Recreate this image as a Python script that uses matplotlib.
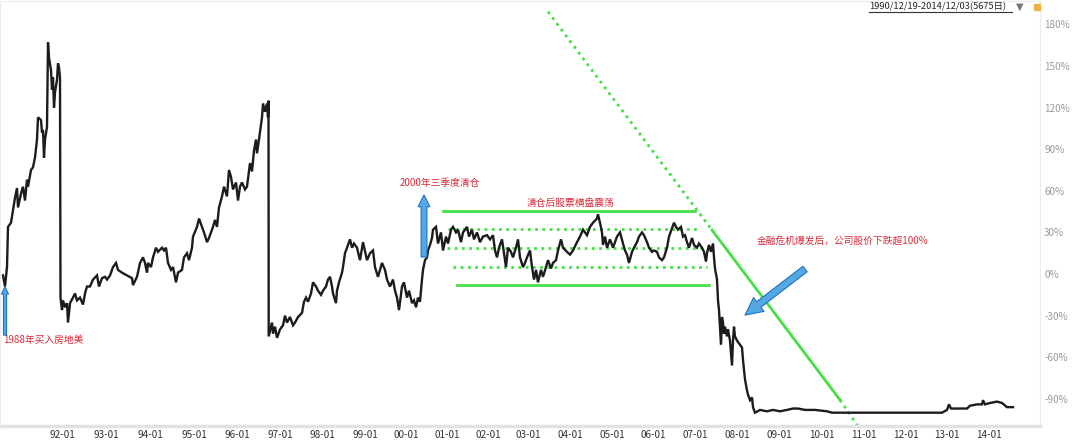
import matplotlib
matplotlib.use('Agg')
import matplotlib.pyplot as plt
from matplotlib.lines import Line2D
from matplotlib.patches import Rectangle

plt.rcParams['font.family'] = ['Noto Sans CJK SC', 'DejaVu Sans']

# bar index (x) and change vs. start in % (y)
bar = [3, 5, 7, 7.5, 8, 11, 13, 15, 17, 18, 21, 23, 25, 27, 28, 31, 33, 35, 37, 38,
       41, 42, 43, 44, 45, 47, 48, 49, 51, 52, 53, 54, 55, 57, 58, 59, 60, 60.5,
       62, 63, 65, 67, 68, 70, 73, 75, 77, 80, 83, 85, 87, 90, 93, 97, 99, 102, 105, 107,
       110, 113, 116, 118, 122, 127, 132, 133, 137, 140, 143, 145, 147, 148, 151, 153, 156,
       158, 162, 164, 166, 168, 171, 173, 176, 178, 182, 184, 187, 189, 192, 193, 197, 199,
       202, 204, 207, 209, 213, 215, 217, 219, 222, 224, 227, 229, 231, 233, 236, 238, 240,
       242, 245, 247, 250, 252, 254, 256, 257, 259, 262, 263, 265, 267, 268, 268.5, 268.7,
       272, 273, 275, 277, 280, 283, 285, 287, 290, 293, 295, 298, 302, 304, 306, 308, 311,
       313, 316, 318, 321, 323, 326, 328, 330, 332, 333, 336, 337, 339, 342, 343, 345, 347,
       350, 352, 354, 357, 360, 363, 367, 370, 373, 375, 378, 382, 385, 387, 390, 393, 395,
       397, 399, 402, 404, 407, 409, 412, 414, 416, 418, 420, 422, 423, 425, 427, 428, 430,
       432, 433, 436, 438, 441, 443, 446, 448, 451, 453, 456, 458, 461, 463, 467, 469, 472,
       474, 477, 480, 483, 487, 490, 493, 495, 497, 499, 502, 504, 506, 508, 511, 513, 516,
       518, 520, 523, 525, 527, 530, 532, 534, 536, 538, 541, 543, 546, 548, 551, 553, 556,
       558, 561, 563, 567, 570, 573, 577, 580, 583, 587, 590, 593, 597, 598, 600, 602, 603,
       605, 607, 610, 613, 615, 617, 620, 623, 625, 627, 629, 632, 634, 637, 639, 642, 644,
       647, 649, 652, 654, 657, 659, 662, 664, 667, 669, 672, 674, 676, 678, 681, 683, 685,
       687, 689, 692, 694, 697, 699, 702, 704, 706, 707, 709, 711, 713, 714, 715, 717, 718,
       719, 720, 721, 722, 723, 724, 725, 727, 728, 730, 732, 733, 734, 735, 737, 739, 742,
       743, 745, 747, 748, 750, 752, 753, 755, 760, 767, 773, 780, 787, 793, 798, 805, 815,
       827, 832, 847, 867, 900, 942, 947, 949, 951, 957, 967, 970, 977, 982, 983, 985, 990,
       997, 1002, 1007, 1013]
pct = [-1, -9, 5, 19, 34, 37, 46, 55, 62, 48, 58, 63, 53, 68, 63, 75, 77, 84, 97, 113,
       111, 102, 104, 84, 97, 106, 167, 156, 147, 133, 142, 120, 131, 140, 152, 149, 142, -17,
       -26, -19, -24, -21, -35, -21, -17, -14, -19, -17, -22, -14, -9, -9, -4, -1, -9, -3, -2, -4,
       -1, 5, 8, 3, 1, -1, -3, -8, -2, 8, 12, 8, 1, 8, 5, 12, 19,
       16, 19, 17, 19, 8, 3, 5, -6, 1, 3, 12, 15, 10, 19, 27, 34, 40,
       34, 30, 23, 26, 34, 39, 34, 48, 56, 63, 56, 75, 70, 61, 66, 53, 63,
       66, 61, 63, 80, 74, 89, 97, 87, 97, 113, 123, 117, 123, 113, 125, -45,
       -35, -43, -38, -46, -40, -37, -30, -35, -31, -37, -35, -31, -28, -20, -17, -20, -14,
       -6, -9, -12, -15, -12, -9, -4, -2, -9, -14, -21, -12, -6, 1, 5, 15, 19,
       25, 19, 22, 19, 10, 23, 10, 15, 17, 5, -2, 8, 3, -4, -9, -4, -12,
       -17, -26, -9, -6, -17, -12, -21, -19, -24, -17, -20, -4, 3, 10, 12, 17, 21,
       26, 32, 34, 22, 30, 17, 27, 22, 32, 34, 30, 32, 23, 30, 34, 27, 32,
       25, 30, 23, 27, 28, 25, 28, 17, 12, 19, 25, 15, 5, 19, 16, 12, 19,
       25, 12, 5, 8, 12, 17, 5, -4, 3, -6, 3, -2, 5, 10, 4, 8, 10,
       17, 25, 19, 16, 14, 17, 23, 27, 32, 28, 34, 37, 40, 43, 37, 30, 21,
       27, 19, 25, 19, 23, 27, 30, 22, 17, 14, 8, 16, 19, 23, 27, 30, 28,
       23, 19, 16, 17, 16, 12, 10, 12, 19, 27, 33, 37, 34, 32, 34, 27, 28,
       23, 19, 26, 21, 19, 22, 19, 16, 9, 15, 21, 16, 22, 12, 4, -4, -19,
       -26, -38, -51, -31, -35, -43, -38, -45, -40, -48, -66, -48, -38, -45, -48, -50, -53,
       -62, -76, -84, -87, -91, -89, -96, -100, -98, -99, -98, -99, -98, -97, -97, -98, -98,
       -99, -100, -100, -100, -100, -100, -98, -94, -97, -97, -97, -95, -94, -94, -91, -94, -93,
       -92, -93, -96, -96]

tick_bar = [62, 106, 150, 194, 237, 280, 322, 365, 406, 447, 488, 528, 570, 612, 653,
            695, 737, 779, 822, 864, 906, 947, 989]
tick_lab = ['92-01', '93-01', '94-01', '95-01', '96-01', '97-01', '98-01', '99-01',
            '00-01', '01-01', '02-01', '03-01', '04-01', '05-01', '06-01', '07-01',
            '08-01', '09-01', '10-01', '11-01', '12-01', '13-01', '14-01']
y_ticks = [180, 150, 120, 90, 60, 30, 0, -30, -60, -90]

# sideways band after the 2000 sale: (level, start bar, end bar)
band_solid = [(45.4, 443, 695), (-7.9, 457, 709)]
band_dot = [(32.4, 448, 698), (18.7, 447, 705), (5.0, 453, 707)]

# falling trend line through the crash
trend_bar = [548, 712, 840, 860]
trend_pct = [189.2, 31.7, -90.8, -112.0]

GREEN = '#44e044'
RED = '#d92b3a'

fig = plt.figure(figsize=(10.8, 4.43), dpi=100)
ax = fig.add_axes([0, 17 / 443, 1040 / 1080, 425 / 443])
ax.set_xlim(0, 1040)
ax.set_ylim(-109.6, 196.9)

ax.plot(bar, pct, color='#1c1c1c', lw=1.7, solid_joinstyle='miter', zorder=3)

for lev, x0, x1 in band_solid:
    ax.plot([x0, x1], [lev, lev], color=GREEN, lw=2.0, zorder=2)
for lev, x0, x1 in band_dot:
    ax.plot([x0, x1], [lev, lev], color=GREEN, lw=2.0, ls=(0, (1, 1.6)), zorder=2)

ax.plot(trend_bar[:2], trend_pct[:2], color=GREEN, lw=2.0, ls=(0, (1, 1.6)), zorder=2)
ax.plot(trend_bar[1:3], trend_pct[1:3], color=GREEN, lw=2.0, zorder=2)
ax.plot(trend_bar[2:], trend_pct[2:], color=GREEN, lw=2.0, ls=(0, (1, 1.6)), zorder=2)

# blue arrows
def arrow(tail, head, tw, hw, hl):
    ax.annotate('', xy=head, xytext=tail,
                arrowprops=dict(arrowstyle='simple,head_length=%s,head_width=%s,tail_width=%s' % (hl, hw, tw),
                                fc='#55a8e4', ec='#1f74c0', lw=0.8, mutation_scale=10,
                                shrinkA=0, shrinkB=0), zorder=4)

arrow((5, -44), (5, -9), 0.22, 0.5, 0.55)
arrow((424, 12.3), (424, 57), 0.42, 0.85, 0.85)
arrow((805, 3.6), (745, -29.6), 0.5, 1.25, 1.25)

ax.text(3, -47.6, '1988年买入房地美', color=RED, fontsize=7, ha='left', va='center')
ax.text(400, 65.6, '2000年三季度清仓', color=RED, fontsize=7, ha='left', va='center')
ax.text(571, 51.2, '清仓后股票横盘震荡', color=RED, fontsize=7, ha='center', va='center')
ax.text(757, 23.8, '金融危机爆发后，公司股价下跌超100%', color=RED, fontsize=7,
        ha='left', va='center')

ax.yaxis.tick_right()
ax.set_yticks(y_ticks)
ax.set_yticklabels(['%d%%' % v for v in y_ticks])
ax.tick_params(axis='y', length=0, pad=3, labelsize=7.2, labelcolor='#9a9a9a')
ax.set_xticks(tick_bar)
ax.set_xticklabels(tick_lab)
ax.tick_params(axis='x', length=0, pad=3, labelsize=7.2, labelcolor='#333333')

for side in ['top', 'left', 'right']:
    ax.spines[side].set_color('#ececec')
    ax.spines[side].set_linewidth(0.8)
ax.spines['bottom'].set_color('#e2e2e2')
ax.spines['bottom'].set_linewidth(2.5)

# header: date range with dropdown
fig.text(869 / 1080, 1 - 7 / 443, '1990/12/19-2014/12/03(5675日)', fontsize=6.7,
         color='#222222', ha='left', va='center')
fig.add_artist(Line2D([869 / 1080, 1012 / 1080], [1 - 12 / 443] * 2, color='#333333', lw=0.8))
fig.text(1020 / 1080, 1 - 7 / 443, '▼', fontsize=7, color='#777777', ha='center',
         va='center', family='DejaVu Sans')
fig.add_artist(Rectangle((1034 / 1080, 1 - 10 / 443), 6 / 1080, 6 / 443,
                         transform=fig.transFigure, color='#f0b23a'))

plt.savefig('out.png', dpi=100)
